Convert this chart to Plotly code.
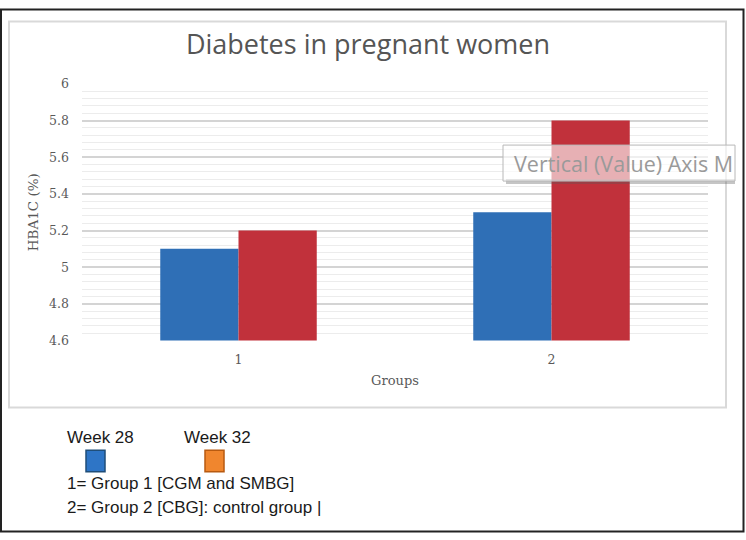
import plotly.graph_objects as go

categories = ["1", "2"]
week28 = [5.1, 5.3]
week32 = [5.2, 5.8]
y_ticks = [4.6, 4.8, 5.0, 5.2, 5.4, 5.6, 5.8, 6.0]
y_tick_labels = ["4.6", "4.8", "5", "5.2", "5.4", "5.6", "5.8", "6"]
legend_names = ["Week 28", "Week 32"]
note_lines = ["1= Group 1 [CGM and SMBG]", "2= Group 2 [CBG]: control group |"]

W, H = 746, 540
def px(x):
    return x / W
def py(y):
    return (H - y) / H

BLUE = "#2f6fb6"
RED = "#c1313b"

fig = go.Figure()
fig.add_trace(go.Bar(x=categories, y=week28, name=legend_names[0], marker=dict(color=BLUE, line=dict(width=0))))
fig.add_trace(go.Bar(x=categories, y=week32, name=legend_names[1], marker=dict(color=RED, line=dict(width=0))))

serif = "DejaVu Serif"
fig.update_layout(
    width=W, height=H,
    margin=dict(l=0, r=0, t=0, b=0),
    paper_bgcolor="white", plot_bgcolor="white",
    showlegend=False,
    barmode="group", bargap=0.5, bargroupgap=0,
    title=dict(text="Diabetes in pregnant women", x=px(368), xanchor="center",
               y=py(45), yanchor="middle",
               font=dict(family="Open Sans", size=27, color="#555555")),
    xaxis=dict(domain=[px(82), px(708)], showgrid=False, showline=False, zeroline=False,
               ticks="", tickfont=dict(family=serif, size=12.5, color="#595959"),
               ticklabelstandoff=10,
               title=dict(text="Groups", standoff=9, font=dict(family=serif, size=13, color="#595959"))),
    yaxis=dict(domain=[py(342), py(78)], range=[4.6, 6.0], tickvals=y_ticks, ticktext=y_tick_labels,
               showgrid=True, gridcolor="#d4d4d4", gridwidth=1.5, zeroline=False, showline=False,
               minor=dict(dtick=0.04, showgrid=True, gridcolor="#ececec", gridwidth=1),
               ticks="", tickfont=dict(family=serif, size=12.5, color="#595959"),
               ticklabelstandoff=12,
               title=dict(text="HBA1C (%)", standoff=7, font=dict(family=serif, size=13.5, color="#595959"))),
)

shapes = []
# inner chart frame
shapes.append(dict(type="rect", xref="paper", yref="paper", x0=px(9), x1=px(726), y0=py(411), y1=py(14),
                   line=dict(color="#d9d9d9", width=2), fillcolor="rgba(0,0,0,0)", layer="below"))
# outer border
shapes.append(dict(type="rect", xref="paper", yref="paper", x0=px(1), x1=px(743.5), y0=py(538.5), y1=py(1.5),
                   line=dict(color="#222222", width=2), fillcolor="rgba(0,0,0,0)"))
# tooltip shadow and box
shapes.append(dict(type="rect", xref="paper", yref="paper", x0=px(506), x1=px(735), y0=py(181), y1=py(176),
                   line=dict(width=0), fillcolor="rgba(90,90,90,0.35)"))
shapes.append(dict(type="rect", xref="paper", yref="paper", x0=px(503), x1=px(735), y0=py(178), y1=py(141),
                   line=dict(color="#b8b8b8", width=1), fillcolor="rgba(255,255,255,0.62)"))
# legend swatches
shapes.append(dict(type="rect", xref="paper", yref="paper", x0=px(86), x1=px(105), y0=py(477), y1=py(455),
                   line=dict(color="#1f4e79", width=1.5), fillcolor="#2e75c6"))
shapes.append(dict(type="rect", xref="paper", yref="paper", x0=px(205), x1=px(224), y0=py(477), y1=py(455),
                   line=dict(color="#b85a10", width=1.5), fillcolor="#f0862e"))
fig.update_layout(shapes=shapes)

ann = []
ann.append(dict(text="Vertical (Value) Axis M", xref="paper", yref="paper", x=px(512), y=py(160),
                xanchor="left", yanchor="middle", showarrow=False,
                font=dict(family="Open Sans", size=21.5, color="#9a9a9a")))
sans = "Liberation Sans"
ann.append(dict(text=legend_names[0], xref="paper", yref="paper", x=px(65), y=py(442),
                xanchor="left", yanchor="middle", showarrow=False, font=dict(family=sans, size=17, color="#1a1a1a")))
ann.append(dict(text=legend_names[1], xref="paper", yref="paper", x=px(182), y=py(442),
                xanchor="left", yanchor="middle", showarrow=False, font=dict(family=sans, size=17, color="#1a1a1a")))
ann.append(dict(text=note_lines[0], xref="paper", yref="paper", x=px(65), y=py(489),
                xanchor="left", yanchor="middle", showarrow=False, font=dict(family=sans, size=17, color="#1a1a1a")))
ann.append(dict(text=note_lines[1], xref="paper", yref="paper", x=px(65), y=py(514),
                xanchor="left", yanchor="middle", showarrow=False, font=dict(family=sans, size=17, color="#1a1a1a")))
fig.update_layout(annotations=ann)

fig.write_html("out.html", config={"displayModeBar": False},
               post_script="document.body.style.margin='0';document.body.style.overflow='hidden';")
